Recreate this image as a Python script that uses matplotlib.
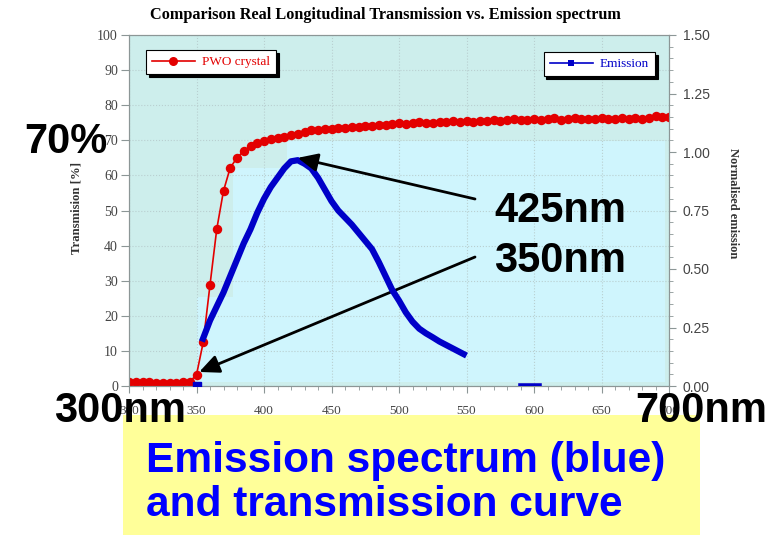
import numpy as np
import matplotlib
matplotlib.use("Agg")
import matplotlib.pyplot as plt
from matplotlib.patches import Polygon, Rectangle
from matplotlib.ticker import MultipleLocator, FormatStrFormatter

# PWO crystal longitudinal transmission [%], sampled every 5 nm
trans_nm = list(range(300, 705, 5))
trans_pct = [1.2, 1.1, 1.0, 1.0, 0.9, 0.9, 0.8, 0.9, 1.0, 1.2,
             3.2, 12.5, 28.8, 44.7, 55.6, 62.2, 65.0, 67.0, 68.3, 69.2,
             69.8, 70.3, 70.6, 70.9, 71.4, 71.8, 72.3, 72.8, 73.0, 73.2,
             73.1, 73.5, 73.4, 73.8, 73.7, 74.0, 74.2, 74.4, 74.3, 74.7,
             74.8, 74.6, 74.9, 75.1, 74.8, 75.0, 75.3, 75.1, 75.4, 75.2,
             75.5, 75.3, 75.6, 75.4, 75.7, 75.5, 75.8, 76.1, 75.7, 75.9,
             76.2, 75.8, 76.0, 76.3, 75.9, 76.1, 76.4, 76.0, 76.2, 76.1,
             76.3, 76.0, 76.2, 76.4, 76.1, 76.3, 76.2, 76.4, 76.9, 76.5,
             76.6]

# normalised emission spectrum
emis_nm = [354, 360, 365, 370, 375, 380, 385, 390, 395, 400,
           405, 410, 415, 420, 425, 430, 435, 440, 445, 450,
           455, 460, 465, 470, 475, 480, 485, 490, 495, 500,
           505, 510, 515, 520, 525, 530, 535, 540, 545, 550]
emis_val = [0.19, 0.28, 0.34, 0.40, 0.47, 0.54, 0.61, 0.67, 0.74, 0.80,
            0.85, 0.89, 0.93, 0.96, 0.965, 0.95, 0.93, 0.89, 0.84, 0.79,
            0.75, 0.72, 0.69, 0.655, 0.62, 0.585, 0.53, 0.47, 0.41, 0.365,
            0.315, 0.275, 0.245, 0.225, 0.208, 0.19, 0.175, 0.16, 0.145, 0.13]
emis_zero_nm = [350]
emis_zero_val = [0.0]
emis_tail_nm = [590, 604]
emis_tail_val = [0.0, 0.0]

peak_nm, peak_val = 425, 0.975
edge_nm, edge_pct = 352, 4.0

W, H = 767, 535
RED = "#e30000"
BLUE = "#0000c8"


def px(x, y):
    # pixel position (from top-left) -> figure fraction
    return x / W, 1 - y / H


fig = plt.figure(figsize=(W / 100, H / 100), dpi=100)
fig.patch.set_facecolor("white")

ax = fig.add_axes([129 / W, 149 / H, 540 / W, 351 / H])
ax.set_facecolor("#cdeeec")
ax.set_xlim(300, 700)
ax.set_ylim(0, 100)

# lighter highlight region behind the curves
hl = Polygon([(350, 1.1), (350, 25.4), (377, 25.4), (377, 62.1), (417, 62.1),
              (417, 69.8), (697, 69.8), (697, 1.1)],
             closed=True, facecolor="#cff5fd", edgecolor="none", zorder=0.5)
ax.add_patch(hl)

ax.grid(True, which="major", linestyle=":", color="#b9cfd0", linewidth=0.8)
ax.set_axisbelow(True)

ax.plot(trans_nm, trans_pct, color=RED, lw=1.2, marker="o",
        markersize=6.8, markeredgewidth=0, zorder=3)

ax2 = ax.twinx()
ax2.set_ylim(0, 1.5)
ax2.plot(emis_nm, emis_val, color=BLUE, lw=4.5, solid_capstyle="butt",
         solid_joinstyle="round", zorder=4)
ax2.plot(emis_zero_nm, emis_zero_val, "s", color=BLUE, markersize=6, zorder=4)
ax2.plot(emis_tail_nm, emis_tail_val, color=BLUE, lw=4, zorder=4)

for a in (ax, ax2):
    for s in a.spines.values():
        s.set_color("#8c9696")
        s.set_linewidth(0.8)

serif = "Liberation Serif"
sans = "Liberation Sans"

ax.xaxis.set_major_locator(MultipleLocator(50))
ax.xaxis.set_minor_locator(MultipleLocator(10))
ax.yaxis.set_major_locator(MultipleLocator(10))
ax.tick_params(axis="x", which="major", direction="out", length=5, pad=9,
               color="#8c9696", labelsize=9.5, labelcolor="#444444")
ax.tick_params(axis="x", which="minor", direction="out", length=3, color="#8c9696")
ax.tick_params(axis="y", which="major", direction="out", length=6, pad=2,
               color="#8c9696", labelsize=10, labelcolor="#444444")
for lab in ax.get_xticklabels() + ax.get_yticklabels():
    lab.set_fontfamily(serif)

ax2.yaxis.set_major_locator(MultipleLocator(0.25))
ax2.yaxis.set_minor_locator(MultipleLocator(0.05))
ax2.yaxis.set_major_formatter(FormatStrFormatter("%.2f"))
ax2.tick_params(axis="y", which="major", direction="out", length=5, pad=5,
                color="#8c9696", labelsize=10, labelcolor="#444444")
ax2.tick_params(axis="y", which="minor", direction="out", length=3, color="#8c9696")
for lab in ax2.get_yticklabels():
    lab.set_fontfamily(sans)

ax.set_ylabel("Transmision [%]", fontfamily=serif, fontweight="bold",
              fontsize=9.2, color="#333333")
ax.yaxis.set_label_coords(-0.087, 0.507)
ax2.set_ylabel("Normalised emission", fontfamily=serif, fontweight="bold",
               fontsize=9, color="#333333", rotation=270, va="center")
ax2.yaxis.set_label_coords(1.118, 0.52)

fig.text(*px(385, 15), "Comparison Real Longitudinal Transmission vs. Emission spectrum",
         ha="center", va="center", fontfamily=serif, fontweight="bold", fontsize=11.7)

# legends, one per series
leg_kw = dict(frameon=True, fancybox=False, edgecolor="black", framealpha=1,
              shadow={"color": "black", "alpha": 1}, labelcolor="linecolor",
              prop={"family": serif, "size": 9.5}, handlelength=3.3,
              borderpad=0.45, handletextpad=0.5, borderaxespad=0)
red_h, = ax.plot([], [], color=RED, lw=1.2, marker="o", markersize=6.5,
                 markeredgewidth=0)
blue_h, = ax.plot([], [], color=BLUE, lw=1.2, marker="s", markersize=4,
                  markeredgewidth=0)
leg1 = ax2.legend([red_h], ["PWO crystal"], loc="upper left",
                  bbox_to_anchor=(0.031, 0.957), **leg_kw)
leg1.get_frame().set_linewidth(0.8)
ax2.add_artist(leg1)
leg2 = ax2.legend([blue_h], ["Emission"], loc="upper right",
                  bbox_to_anchor=(0.974, 0.951), **leg_kw)
leg2.get_frame().set_linewidth(0.8)

# slide annotations
big = dict(fontfamily=sans, fontweight="bold", fontsize=30, color="black",
           va="baseline", zorder=10)
fig.text(*px(24, 153), "70%", ha="left", **big)
fig.text(*px(494, 222), "425nm", ha="left", **big)
fig.text(*px(494, 272), "350nm", ha="left", **big)
fig.text(*px(54, 422), "300nm", ha="left", **big)
fig.text(*px(767, 422), "700nm", ha="right", **big)

arrow_kw = dict(arrowstyle="-|>,head_length=1.2,head_width=0.55", color="black",
                lw=2.0, shrinkA=0, shrinkB=0)
ax2.annotate("", xy=(peak_nm, peak_val), xycoords="data",
             xytext=(475, H - 199), textcoords="figure pixels",
             arrowprops=arrow_kw, zorder=6)
ax.annotate("", xy=(edge_nm, edge_pct), xycoords="data",
            xytext=(475, H - 257), textcoords="figure pixels",
            arrowprops=arrow_kw, zorder=6)

fig.patches.append(Rectangle(px(123, 535), (700 - 123) / W, (535 - 415) / H,
                             transform=fig.transFigure, facecolor="#ffff99",
                             edgecolor="none", zorder=1))
cap = dict(fontfamily=sans, fontweight="bold", fontsize=30.6, color="#0000ff",
           ha="left", va="baseline", zorder=10)
fig.text(*px(146, 472), "Emission spectrum (blue)", **cap)
fig.text(*px(146, 516), "and transmission curve", **cap)

fig.savefig("out.png", dpi=100)
